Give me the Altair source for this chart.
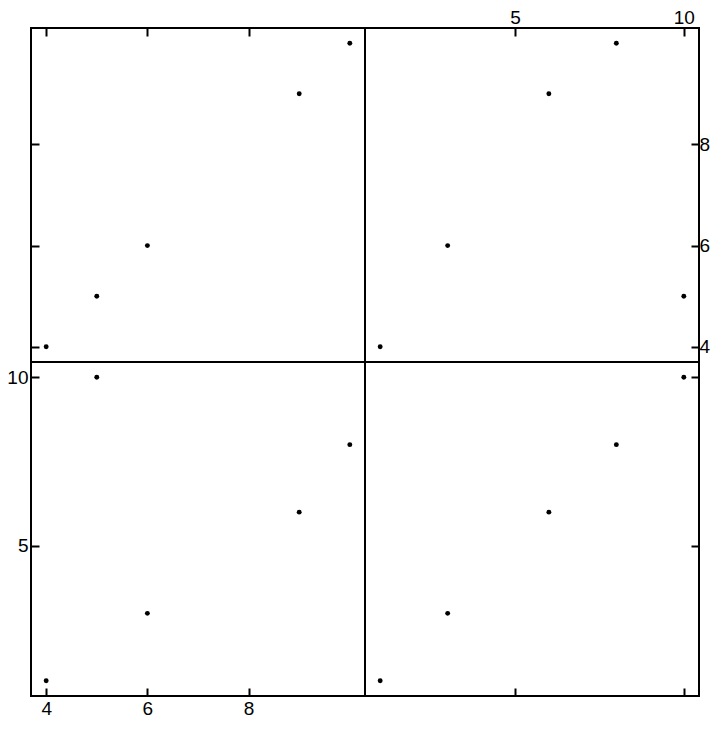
import altair as alt
import pandas as pd

var1 = [4, 5, 6, 9, 10]
var2 = [1, 10, 3, 6, 8]

dom1 = [3.7, 10.3]
dom2 = [0.55, 10.45]
ticks1 = [4, 6, 8]
ticks2 = [5, 10]

df = pd.DataFrame({"v1": var1, "v2": var2})

W = 334
H = 334
FS = 19


def axis(orient, values, labels, pad):
    kw = dict(orient=orient, values=values, labels=labels, title=None, offset=-8,
              tickSize=8, format="d")
    if labels:
        kw["labelPadding"] = pad
    return alt.Axis(**kw)


def panel(xf, yf, xdom, ydom, xt, yt, xo, yo, xl, yl, xp, yp):
    return alt.Chart(df).mark_circle(size=24, color="black", opacity=1).encode(
        x=alt.X(f"{xf}:Q", scale=alt.Scale(domain=xdom, nice=False, zero=False),
                axis=axis(xo, xt, xl, xp)),
        y=alt.Y(f"{yf}:Q", scale=alt.Scale(domain=ydom, nice=False, zero=False),
                axis=axis(yo, yt, yl, yp)),
    ).properties(width=W, height=H)


tl = panel("v1", "v1", dom1, dom1, ticks1, ticks1, "top", "left", False, False, 0, 0)
tr = panel("v2", "v1", dom2, dom1, ticks2, ticks1, "top", "right", True, True, 1, 0)
bl = panel("v1", "v2", dom1, dom2, ticks1, ticks2, "bottom", "left", True, True, 3, 3)
br = panel("v2", "v2", dom2, dom2, ticks2, ticks2, "bottom", "right", False, False, 0, 0)

chart = alt.concat(tl, tr, bl, br, columns=2, spacing=0, bounds="flush").properties(
    padding={"left": -3, "top": -1, "right": 0, "bottom": 0},
    background="white",
).configure_view(
    stroke="black", strokeWidth=2
).configure_axis(
    domain=False, grid=False, tickColor="black", tickWidth=2,
    labelFont="Liberation Sans", labelFontSize=FS, labelColor="black",
)

chart.save("out.html", embed_options={"renderer": "svg", "actions": False})
